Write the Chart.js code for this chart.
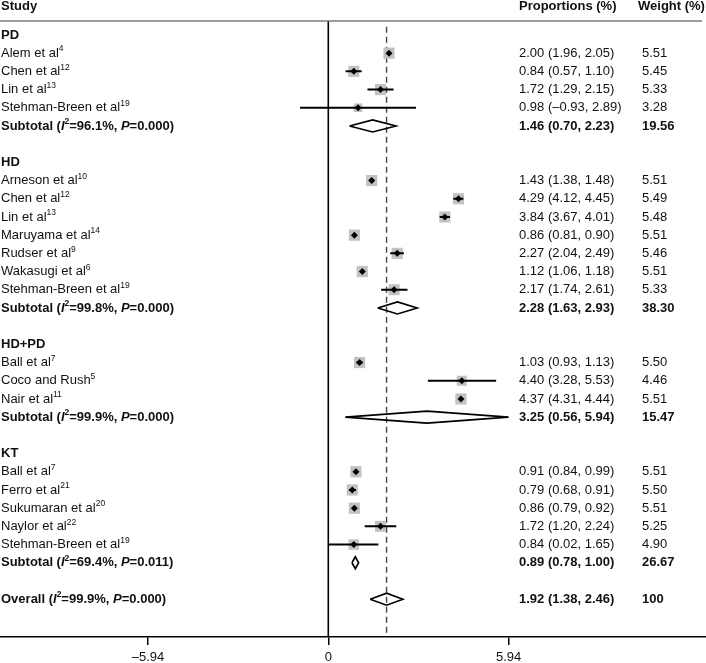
<!DOCTYPE html>
<html><head><meta charset="utf-8">
<script src="https://cdn.jsdelivr.net/npm/chart.js@4"></script>
<style>html,body{margin:0;padding:0;background:#fff}</style>
</head><body>
<canvas id="c" width="706" height="663" style="display:block;width:706px;height:663px"></canvas>
<script>
// ---------- DATA ----------
const groupNames = ['PD', 'HD', 'HD+PD', 'KT'];
const groupOf = [0,0,0,0, 1,1,1,1,1,1,1, 2,2,2, 3,3,3,3,3];
const studyNames = ['Alem et al','Chen et al','Lin et al','Stehman-Breen et al',
  'Arneson et al','Chen et al','Lin et al','Maruyama et al','Rudser et al','Wakasugi et al','Stehman-Breen et al',
  'Ball et al','Coco and Rush','Nair et al',
  'Ball et al','Ferro et al','Sukumaran et al','Naylor et al','Stehman-Breen et al'];
const studyRefs = ['4','12','13','19', '10','12','13','14','9','6','19', '7','5','11', '7','21','20','22','19'];
const studyEst  = [2.00,0.84,1.72,0.98, 1.43,4.29,3.84,0.86,2.27,1.12,2.17, 1.03,4.40,4.37, 0.91,0.79,0.86,1.72,0.84];
const studyLow  = [1.96,0.57,1.29,-0.93, 1.38,4.12,3.67,0.81,2.04,1.06,1.74, 0.93,3.28,4.31, 0.84,0.68,0.79,1.20,0.02];
const studyHigh = [2.05,1.10,2.15,2.89, 1.48,4.45,4.01,0.90,2.49,1.18,2.61, 1.13,5.53,4.44, 0.99,0.91,0.92,2.24,1.65];
const studyWeight = [5.51,5.45,5.33,3.28, 5.51,5.49,5.48,5.51,5.46,5.51,5.33, 5.50,4.46,5.51, 5.51,5.50,5.51,5.25,4.90];
const subI2 = ['96.1','99.8','99.9','69.4'];
const subP = ['0.000','0.000','0.000','0.011'];
const subEst = [1.46, 2.28, 3.25, 0.89];
const subLow = [0.70, 1.63, 0.56, 0.78];
const subHigh = [2.23, 2.93, 5.94, 1.00];
const subWeight = ['19.56','38.30','15.47','26.67'];
const overallI2 = '99.9', overallP = '0.000';
const overallEst = 1.92, overallLow = 1.38, overallHigh = 2.46, overallWeight = '100';
const xTicks = [-5.94, 0, 5.94];
const xTickLabels = ['\u20135.94', '0', '5.94'];
const headers = ['Study', 'Proportions (%)', 'Weight (%)'];

// ---------- ROW LAYOUT ----------
const rows = [];
let r = 0;
const studyRow = [], subRow = [];
groupNames.forEach((g, gi) => {
  rows.push({type: 'group', text: g, row: r++});
  studyNames.forEach((n, i) => {
    if (groupOf[i] !== gi) return;
    studyRow[i] = r;
    rows.push({type: 'study', i, row: r++});
  });
  subRow[gi] = r;
  rows.push({type: 'sub', g: gi, row: r++});
  r++;
});
const overallRow = r;
rows.push({type: 'overall', row: overallRow});

const fmt = v => (v < 0 ? '\u2013' + Math.abs(v).toFixed(2) : v.toFixed(2));
const ciText = (e, l, h) => `${fmt(e)} (${fmt(l)}, ${fmt(h)})`;

// ---------- DATASETS ----------
const ciData = [];
studyEst.forEach((e, i) => {
  ciData.push({x: studyLow[i], y: studyRow[i]}, {x: studyHigh[i], y: studyRow[i]}, {x: studyHigh[i], y: null});
});
const DH = 0.33;
const diamondData = [];
const addDiamond = (e, l, h, rr) => {
  diamondData.push({x: l, y: rr}, {x: e, y: rr - DH}, {x: h, y: rr}, {x: e, y: rr + DH}, {x: l, y: rr}, {x: l, y: null});
};
subEst.forEach((e, g) => addDiamond(e, subLow[g], subHigh[g], subRow[g]));
addDiamond(overallEst, overallLow, overallHigh, overallRow);

const squareData = studyEst.map((e, i) => ({x: e, y: studyRow[i]}));
const squareRadius = studyWeight.map(w => 11.2 * Math.sqrt(w / 5.51) / Math.SQRT2);

const YMIN = -1.92, YMAX = 33.08;
const HEADER_LINE_Y = -0.77;

const FONT = '"Liberation Sans", Arial, sans-serif';

function drawRich(ctx, segs, x, y) {
  segs.forEach(s => {
    const size = s.sup ? 8.5 : 13;
    ctx.font = `${s.i ? 'italic ' : ''}${s.b ? 'bold ' : ''}${size}px ${FONT}`;
    ctx.fillText(s.t, x, s.sup ? y - 4 : y);
    x += ctx.measureText(s.t).width;
  });
}

const textPlugin = {
  id: 'forestText',
  afterDraw(chart) {
    const ctx = chart.ctx;
    const ys = chart.scales.y;
    const ca = chart.chartArea;
    const colStudy = ca.left + 1, colProp = 519, colW = 642, colWH = 638;
    ctx.save();
    // header line
    ctx.strokeStyle = '#7a7a7a';
    ctx.lineWidth = 1.5;
    ctx.beginPath();
    const hy = ys.getPixelForValue(HEADER_LINE_Y);
    ctx.moveTo(ca.left, hy); ctx.lineTo(702, hy); ctx.stroke();

    ctx.fillStyle = '#111';
    ctx.textBaseline = 'middle';
    ctx.textAlign = 'left';
    const hY = ys.getPixelForValue(-1.58);
    drawRich(ctx, [{t: headers[0], b: 1}], colStudy, hY);
    drawRich(ctx, [{t: headers[1], b: 1}], colProp, hY);
    drawRich(ctx, [{t: headers[2], b: 1}], colWH, hY);

    rows.forEach(row => {
      const y = ys.getPixelForValue(row.row);
      if (row.type === 'group') {
        drawRich(ctx, [{t: row.text, b: 1}], colStudy, y);
      } else if (row.type === 'study') {
        const i = row.i;
        drawRich(ctx, [{t: studyNames[i]}, {t: studyRefs[i], sup: 1}], colStudy, y);
        drawRich(ctx, [{t: ciText(studyEst[i], studyLow[i], studyHigh[i])}], colProp, y);
        drawRich(ctx, [{t: studyWeight[i].toFixed(2)}], colW, y);
      } else {
        const isSub = row.type === 'sub';
        const label = isSub ? 'Subtotal' : 'Overall';
        const i2 = isSub ? subI2[row.g] : overallI2;
        const p = isSub ? subP[row.g] : overallP;
        drawRich(ctx, [{t: label + ' (', b: 1}, {t: 'I', b: 1, i: 1}, {t: '2', b: 1, sup: 1},
          {t: '=' + i2 + '%, ', b: 1}, {t: 'P', b: 1, i: 1}, {t: '=' + p + ')', b: 1}], colStudy, y);
        const txt = isSub ? ciText(subEst[row.g], subLow[row.g], subHigh[row.g]) : ciText(overallEst, overallLow, overallHigh);
        drawRich(ctx, [{t: txt, b: 1}], colProp, y);
        drawRich(ctx, [{t: isSub ? subWeight[row.g] : overallWeight, b: 1}], colW, y);
      }
    });
    ctx.restore();
  }
};

new Chart(document.getElementById('c'), {
  type: 'line',
  data: {
    datasets: [
      { // zero line
        data: [{x: 0, y: HEADER_LINE_Y}, {x: 0, y: YMAX}],
        borderColor: '#000', borderWidth: 1.6, pointRadius: 0, order: 6, fill: false
      },
      { // overall dashed line
        data: [{x: overallEst, y: -0.45}, {x: overallEst, y: YMAX}],
        borderColor: '#444', borderWidth: 1.4, borderDash: [6, 4], pointRadius: 0, order: 5, fill: false
      },
      { // weight squares
        data: squareData, showLine: false, pointStyle: 'rect', pointRadius: squareRadius,
        pointBackgroundColor: '#c2c2c2', pointBorderWidth: 0, pointBorderColor: 'rgba(0,0,0,0)', order: 4
      },
      { // CI lines
        data: ciData, borderColor: '#000', borderWidth: 2, pointRadius: 0, spanGaps: false, order: 3, fill: false,
        borderCapStyle: 'butt'
      },
      { // pooled diamonds
        data: diamondData, borderColor: '#000', borderWidth: 1.6, pointRadius: 0, spanGaps: false, order: 2,
        fill: false, borderJoinStyle: 'miter'
      },
      { // point estimates
        data: squareData, showLine: false, pointStyle: 'rectRot', pointRadius: 3.5,
        pointBackgroundColor: '#000', pointBorderWidth: 0, order: 1
      }
    ]
  },
  options: {
    responsive: false,
    animation: false,
    events: [],
    layout: {padding: 0, autoPadding: false},
    plugins: {legend: {display: false}, tooltip: {enabled: false}},
    elements: {line: {tension: 0}},
    scales: {
      x: {
        type: 'linear', min: -10.817, max: 12.445,
        afterBuildTicks: s => { s.ticks = xTicks.map(v => ({value: v})); },
        afterFit: s => { s.height = 26; },
        ticks: {
          callback: (v, i) => xTickLabels[i],
          color: '#111', font: {family: FONT, size: 13}, padding: 5,
          autoSkip: false, maxRotation: 0, includeBounds: false
        },
        grid: {drawOnChartArea: false, drawTicks: true, tickLength: 8, color: '#000', lineWidth: 1.5},
        border: {display: true, color: '#000', width: 1.5}
      },
      y: {
        type: 'linear', display: false, min: YMIN, max: YMAX, reverse: true
      }
    }
  },
  plugins: [textPlugin]
});
</script>
</body></html>
